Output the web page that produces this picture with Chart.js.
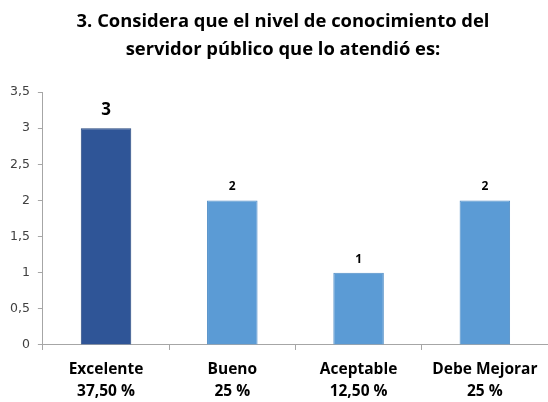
<!DOCTYPE html>
<html>
<head>
<meta charset="utf-8">
<script src="https://cdn.jsdelivr.net/npm/chart.js@4.4.0/dist/chart.umd.min.js"></script>
<style>
  html, body { margin: 0; padding: 0; background: #fff; }
  #wrap { width: 548px; height: 402px; }
</style>
</head>
<body>
<div id="wrap"><canvas id="nivelChart"></canvas></div>
<script>
const titleLines = ['3. Considera que el nivel de conocimiento del', 'servidor público que lo atendió es:'];
const categories = [
    ['Excelente', '37,50 %'],
    ['Bueno', '25 %'],
    ['Aceptable', '12,50 %'],
    ['Debe Mejorar', '25 %']
];
const values = [3, 2, 1, 2];
const barColors = ['#2F5597', '#5B9BD5', '#5B9BD5', '#5B9BD5'];
const borderColors = ['#24457D', '#4F8DC6', '#4F8DC6', '#4F8DC6'];

// title sits a bit right of the canvas centre, as in the original
const titleDraw = {
    id: 'titleDraw',
    afterDraw(chart) {
        const c = chart.ctx;
        c.save();
        c.fillStyle = '#000';
        c.textAlign = 'center';
        c.textBaseline = 'middle';
        c.font = 'bold 18.4px "Open Sans", sans-serif';
        titleLines.forEach(function(t, i) {
            c.fillText(t, 283, 22 + i * 28);
        });
        c.restore();
    }
};

// value labels above each bar (first one drawn larger)
const valueLabels = {
    id: 'valueLabels',
    afterDatasetsDraw(chart) {
        const c = chart.ctx;
        const meta = chart.getDatasetMeta(0);
        c.save();
        c.fillStyle = '#000';
        c.textAlign = 'center';
        c.textBaseline = 'alphabetic';
        meta.data.forEach(function(bar, i) {
            const big = i === 0;
            c.font = 'bold ' + (big ? 17 : 12) + 'px "Open Sans", sans-serif';
            c.fillText(String(values[i]), bar.x, bar.y - (big ? 13 : 10));
        });
        c.restore();
    }
};

const ctx = document.getElementById('nivelChart').getContext('2d');

new Chart(ctx, {
    type: 'bar',
    data: {
        labels: categories,
        datasets: [{
            data: values,
            backgroundColor: barColors,
            borderColor: borderColors,
            borderWidth: 1,
            categoryPercentage: 1,
            barPercentage: 0.4
        }]
    },
    options: {
        responsive: true,
        maintainAspectRatio: false,
        animation: false,
        layout: { padding: { left: 2, right: -4, top: 92, bottom: -10 } },
        plugins: {
            legend: { display: false },
            tooltip: { enabled: false },
            title: { display: false }
        },
        scales: {
            x: {
                grid: {
                    display: true,
                    offset: true,
                    drawOnChartArea: false,
                    drawTicks: true,
                    tickLength: 5,
                    color: '#A6A6A6'
                },
                border: { color: '#A6A6A6' },
                ticks: {
                    color: '#000',
                    padding: 9,
                    font: { family: '"Open Sans", sans-serif', size: 15.5, weight: 'bold', lineHeight: 1.42 }
                }
            },
            y: {
                min: 0,
                max: 3.5,
                grid: {
                    display: true,
                    drawOnChartArea: false,
                    drawTicks: true,
                    tickLength: 5,
                    color: '#A6A6A6'
                },
                border: { color: '#A6A6A6' },
                ticks: {
                    stepSize: 0.5,
                    color: '#404040',
                    padding: 8,
                    font: { family: '"DejaVu Sans", sans-serif', size: 12.5 },
                    callback: function(v) { return String(v).replace('.', ','); }
                }
            }
        }
    },
    plugins: [valueLabels, titleDraw]
});
</script>
</body>
</html>
